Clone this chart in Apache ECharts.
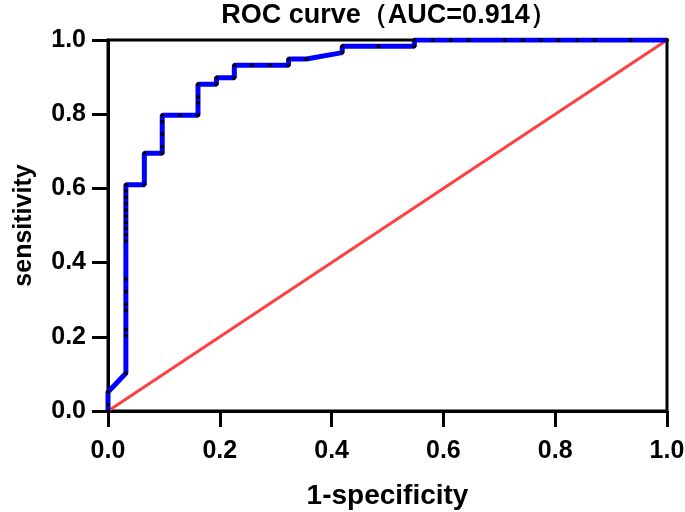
<!DOCTYPE html>
<html><head><meta charset="utf-8">
<script src="https://cdn.jsdelivr.net/npm/echarts@6/dist/echarts.min.js"></script>
<style>html,body{margin:0;padding:0;background:#fff}#c{width:685px;height:512px}</style>
</head><body><div id="c"></div>
<script>
// ROC curve points [1-specificity, sensitivity]
var rocFpr = [0, 0, 0, 0.032, 0.032, 0.032, 0.032, 0.032, 0.032, 0.032, 0.032, 0.032, 0.032, 0.032, 0.032, 0.032, 0.032, 0.032, 0.032, 0.032, 0.065, 0.065, 0.097, 0.097, 0.097, 0.097, 0.097, 0.129, 0.161, 0.161, 0.161, 0.161, 0.194, 0.194, 0.226, 0.226, 0.258, 0.290, 0.323, 0.323, 0.355, 0.419, 0.419, 0.484, 0.548, 0.548, 0.581, 0.613, 0.645, 0.710, 0.742, 0.774, 0.806, 0.839, 0.871, 0.935, 1];
var rocTpr = [0, 0.017, 0.051, 0.102, 0.203, 0.220, 0.271, 0.288, 0.322, 0.356, 0.458, 0.475, 0.492, 0.508, 0.525, 0.542, 0.559, 0.576, 0.593, 0.610, 0.610, 0.695, 0.695, 0.712, 0.746, 0.780, 0.797, 0.797, 0.797, 0.831, 0.847, 0.881, 0.881, 0.898, 0.898, 0.932, 0.932, 0.932, 0.932, 0.949, 0.949, 0.966, 0.983, 0.983, 0.983, 1, 1, 1, 1, 1, 1, 1, 1, 1, 1, 1, 1];
var refX = [0, 1];
var refY = [0, 1];
var titleText = 'ROC curve（AUC=0.914）';
var xName = '1-specificity';
var yName = 'sensitivity';

var rocData = rocFpr.map(function (v, i) { return [v, rocTpr[i]]; });
var refData = refX.map(function (v, i) { return [v, refY[i]]; });
var FONT = 'Liberation Sans, Arial, sans-serif';

var chart = echarts.init(document.getElementById('c'));
chart.setOption({
  animation: false,
  title: {
    text: titleText, left: 384, top: -3, textAlign: 'center',
    textStyle: { fontFamily: FONT, fontWeight: 'bold', fontSize: 27, color: '#000' }
  },
  grid: { left: 108, right: 18, top: 40, bottom: 101, show: true, borderColor: '#000', borderWidth: 3,
    containLabel: false, outerBoundsMode: 'none' },
  xAxis: {
    type: 'value', min: 0, max: 1, interval: 0.2,
    name: xName, nameLocation: 'middle', nameGap: 71,
    nameTextStyle: { fontFamily: FONT, fontWeight: 'bold', fontSize: 28, color: '#000' },
    axisLine: { show: true, onZero: false, lineStyle: { color: '#000', width: 3 } },
    axisTick: { show: true, inside: false, length: 16, lineStyle: { color: '#000', width: 3 } },
    axisLabel: { margin: 28, fontFamily: FONT, fontWeight: 'bold', fontSize: 25, color: '#000',
      formatter: function (v) { return v.toFixed(1); } },
    splitLine: { show: false }
  },
  yAxis: {
    type: 'value', min: 0, max: 1, interval: 0.2,
    name: yName, nameLocation: 'middle', nameGap: 71, nameRotate: 90,
    nameTextStyle: { fontFamily: FONT, fontWeight: 'bold', fontSize: 25, color: '#000' },
    axisLine: { show: true, onZero: false, lineStyle: { color: '#000', width: 3 } },
    axisTick: { show: true, inside: false, length: 16, lineStyle: { color: '#000', width: 3 } },
    axisLabel: { margin: 22, fontFamily: FONT, fontWeight: 'bold', fontSize: 25, color: '#000',
      formatter: function (v) { return v.toFixed(1); } },
    splitLine: { show: false }
  },
  series: [
    {
      type: 'line', data: refData, showSymbol: false, silent: true,
      lineStyle: { color: '#ff4040', width: 3 }, z: 2
    },
    {
      type: 'line', data: rocData, symbol: 'circle', symbolSize: 4, showSymbol: true,
      itemStyle: { color: '#000', borderWidth: 0 },
      lineStyle: { color: '#0000ff', width: 5 }, z: 3
    }
  ]
});
</script></body></html>
